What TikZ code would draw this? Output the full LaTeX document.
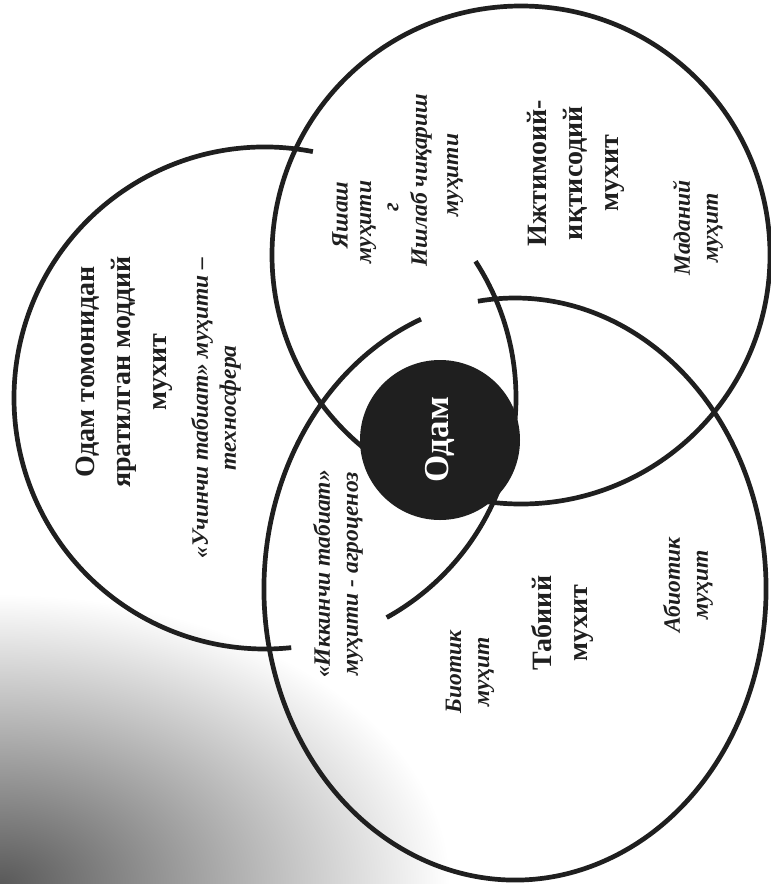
\documentclass[tikz,border=0pt]{standalone}
\usepackage{fontspec}
\setmainfont{Liberation Serif}
\begin{document}
\begin{tikzpicture}[x=1pt,y=1pt]
\tikzset{
  ring/.style={line width=4.7pt, draw=black!88},
  bl/.style={font=\fontsize{28}{36}\selectfont\bfseries, rotate=90, align=center, text=black!88, inner sep=0pt},
  it/.style={font=\fontsize{23.5}{28}\selectfont\bfseries\itshape, rotate=90, align=center, text=black!88, inner sep=0pt}
}
\useasboundingbox (0,0) rectangle (771,-884);
\begin{scope}
  \clip (0,0) rectangle (771,-884);
  \shade[inner color=black!65, outer color=white] (-450,-594) rectangle (450,-1174);
\end{scope}
\coordinate (cA) at (265,-398);
\coordinate (cB) at (521,-255);
\coordinate (cC) at (515,-589);
% circle A (two arcs)
\draw[ring] (cA) ++(79:251pt) arc[start angle=79, end angle=276, radius=251pt];
\draw[ring] (cA) ++(-61:251pt) arc[start angle=-61, end angle=33, radius=251pt];
% circle B
\draw[ring] (cB) circle[radius=249pt];
% circle C (gap above the disk)
\draw[ring] (cC) ++(112:251pt and 291pt) arc[start angle=112, end angle=458.5, x radius=251pt, y radius=291pt];
% disk
\node[circle, fill=black!88, minimum size=160pt, inner sep=0pt, rotate=90,
      font=\fontsize{35}{42}\selectfont\bfseries, text=white] (odam) at (440,-440) {Одам};
% texts A
\node[bl] (tA) at (124,-372) {Одам томонидан\\яратилган моддий\\мухит};
\node[it] (tA2) at (216,-408) {«Учинчи табиат» муҳити –\\техносфера};
% texts A and B
\node[it] (tY1) at (340,-215) {Яшаш};
\node[it] (tY2) at (368,-222) {муҳити};
\node[it] (tY3) at (393,-207) {г};
\node[it] (tY4) at (421,-180) {Ишлаб чиқариш};
\node[it] (tY5) at (455,-175) {муҳити};
% texts B
\node[bl] (tB) at (576,-173) {Ижтимоий-\\иқтисодий\\мухит};
\node[it] (tB2) at (698,-228) {Маданий\\муҳит};
% texts C
\node[it] (tAC) at (338,-574) {«Иккинчи табиат»\\муҳити - агроценоз};
\node[it] (tC1) at (470,-672) {Биотик\\муҳит};
\node[bl] (tC) at (562,-623) {Табиий\\мухит};
\node[it] (tC2) at (688,-585) {Абиотик\\муҳит};
\end{tikzpicture}
\end{document}
